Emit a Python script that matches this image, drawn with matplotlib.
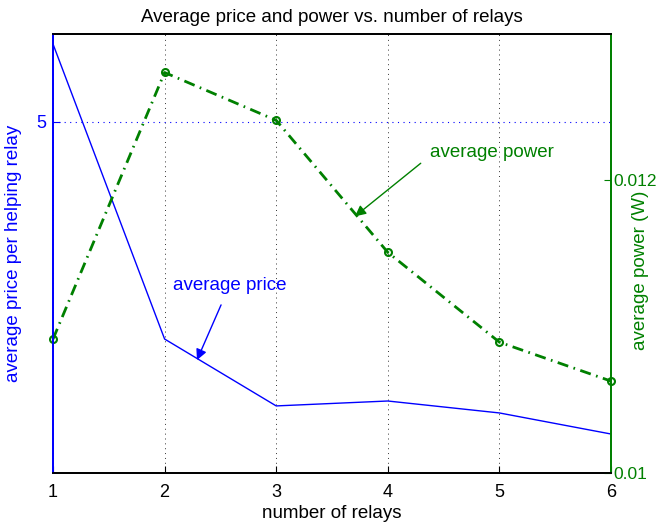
import numpy as np
import matplotlib.pyplot as plt

plt.rcParams['font.family'] = ['Liberation Sans', 'DejaVu Sans']

# data
relays = [1, 2, 3, 4, 5, 6]
avg_price = [5.443, 3.763, 3.382, 3.41, 3.342, 3.222]
avg_power = [0.010915, 0.012737, 0.01241, 0.011508, 0.010894, 0.010628]

BLUE = '#0000ff'
GREEN = '#008000'
FS = 13.5

fig = plt.figure(figsize=(6.61, 5.25), dpi=100)
ax1 = fig.add_axes([53/661, 1-473/525, (611-53)/661, (473-34)/525])
ax2 = ax1.twinx()

# price on left axis
ax1.plot(relays, avg_price, color=BLUE, lw=1)
ax1.set_xlim(1, 6)
ax1.set_ylim(3, 5.5)
ax1.set_yticks([5])
ax1.set_xticks(relays)
ax1.grid(axis='x', color='black', linestyle=(0, (1, 4)), lw=0.7, alpha=0.8)
ax1.axhline(5, color=BLUE, linestyle=(0, (1, 4)), lw=0.8)
ax1.tick_params(axis='y', colors=BLUE, direction='in', labelsize=13, length=5, pad=5)
ax1.tick_params(axis='x', direction='in', labelsize=13, length=5, pad=8)
ax1.set_ylabel('average price per helping relay', color=BLUE, fontsize=FS)
ax1.yaxis.set_label_coords(-31/558, 0.5)
ax1.set_xlabel('number of relays', fontsize=FS, labelpad=3)
ax1.set_title('Average price and power vs. number of relays', fontsize=FS, pad=9)

# power on right axis
ax2.plot(relays, avg_power, color=GREEN, lw=2, dashes=[4, 2, 0.6, 2],
         marker='o', ms=5, mfc='none', mew=1.5, clip_on=False)
ax2.set_ylim(0.01, 0.013)
ax2.set_yticks([0.01, 0.012])
ax2.set_yticklabels(['0.01', '0.012'])
ax2.tick_params(axis='y', colors=GREEN, direction='in', labelsize=12.5, length=5, pad=2)
ax2.set_ylabel('average power (W)', color=GREEN, fontsize=FS)
ax2.yaxis.set_label_coords(1 + 21/558, (473-270)/439)

ax1.spines['left'].set_color(BLUE)
ax2.spines['left'].set_color(BLUE)
ax2.spines['right'].set_color(GREEN)
ax1.spines['right'].set_color(GREEN)
for sp in ax1.spines.values():
    sp.set_linewidth(1.3)
for sp in ax2.spines.values():
    sp.set_linewidth(1.3)

# callouts
ax1.annotate('average price', xy=(2.29, 3.643), xytext=(2.58, 4.065),
             color=BLUE, fontsize=FS, ha='center', va='center',
             arrowprops=dict(arrowstyle='-|>', color=BLUE, lw=1,
                             mutation_scale=16, shrinkA=6, shrinkB=0))
ax2.annotate('average power', xy=(3.706, 0.011754), xytext=(4.378, 0.012191),
             color=GREEN, fontsize=FS, ha='left', va='center',
             arrowprops=dict(arrowstyle='-|>', color=GREEN, lw=1,
                             mutation_scale=16, shrinkA=6, shrinkB=0,
                             relpos=(0, 0.3)))

fig.savefig('out.png', dpi=100)
